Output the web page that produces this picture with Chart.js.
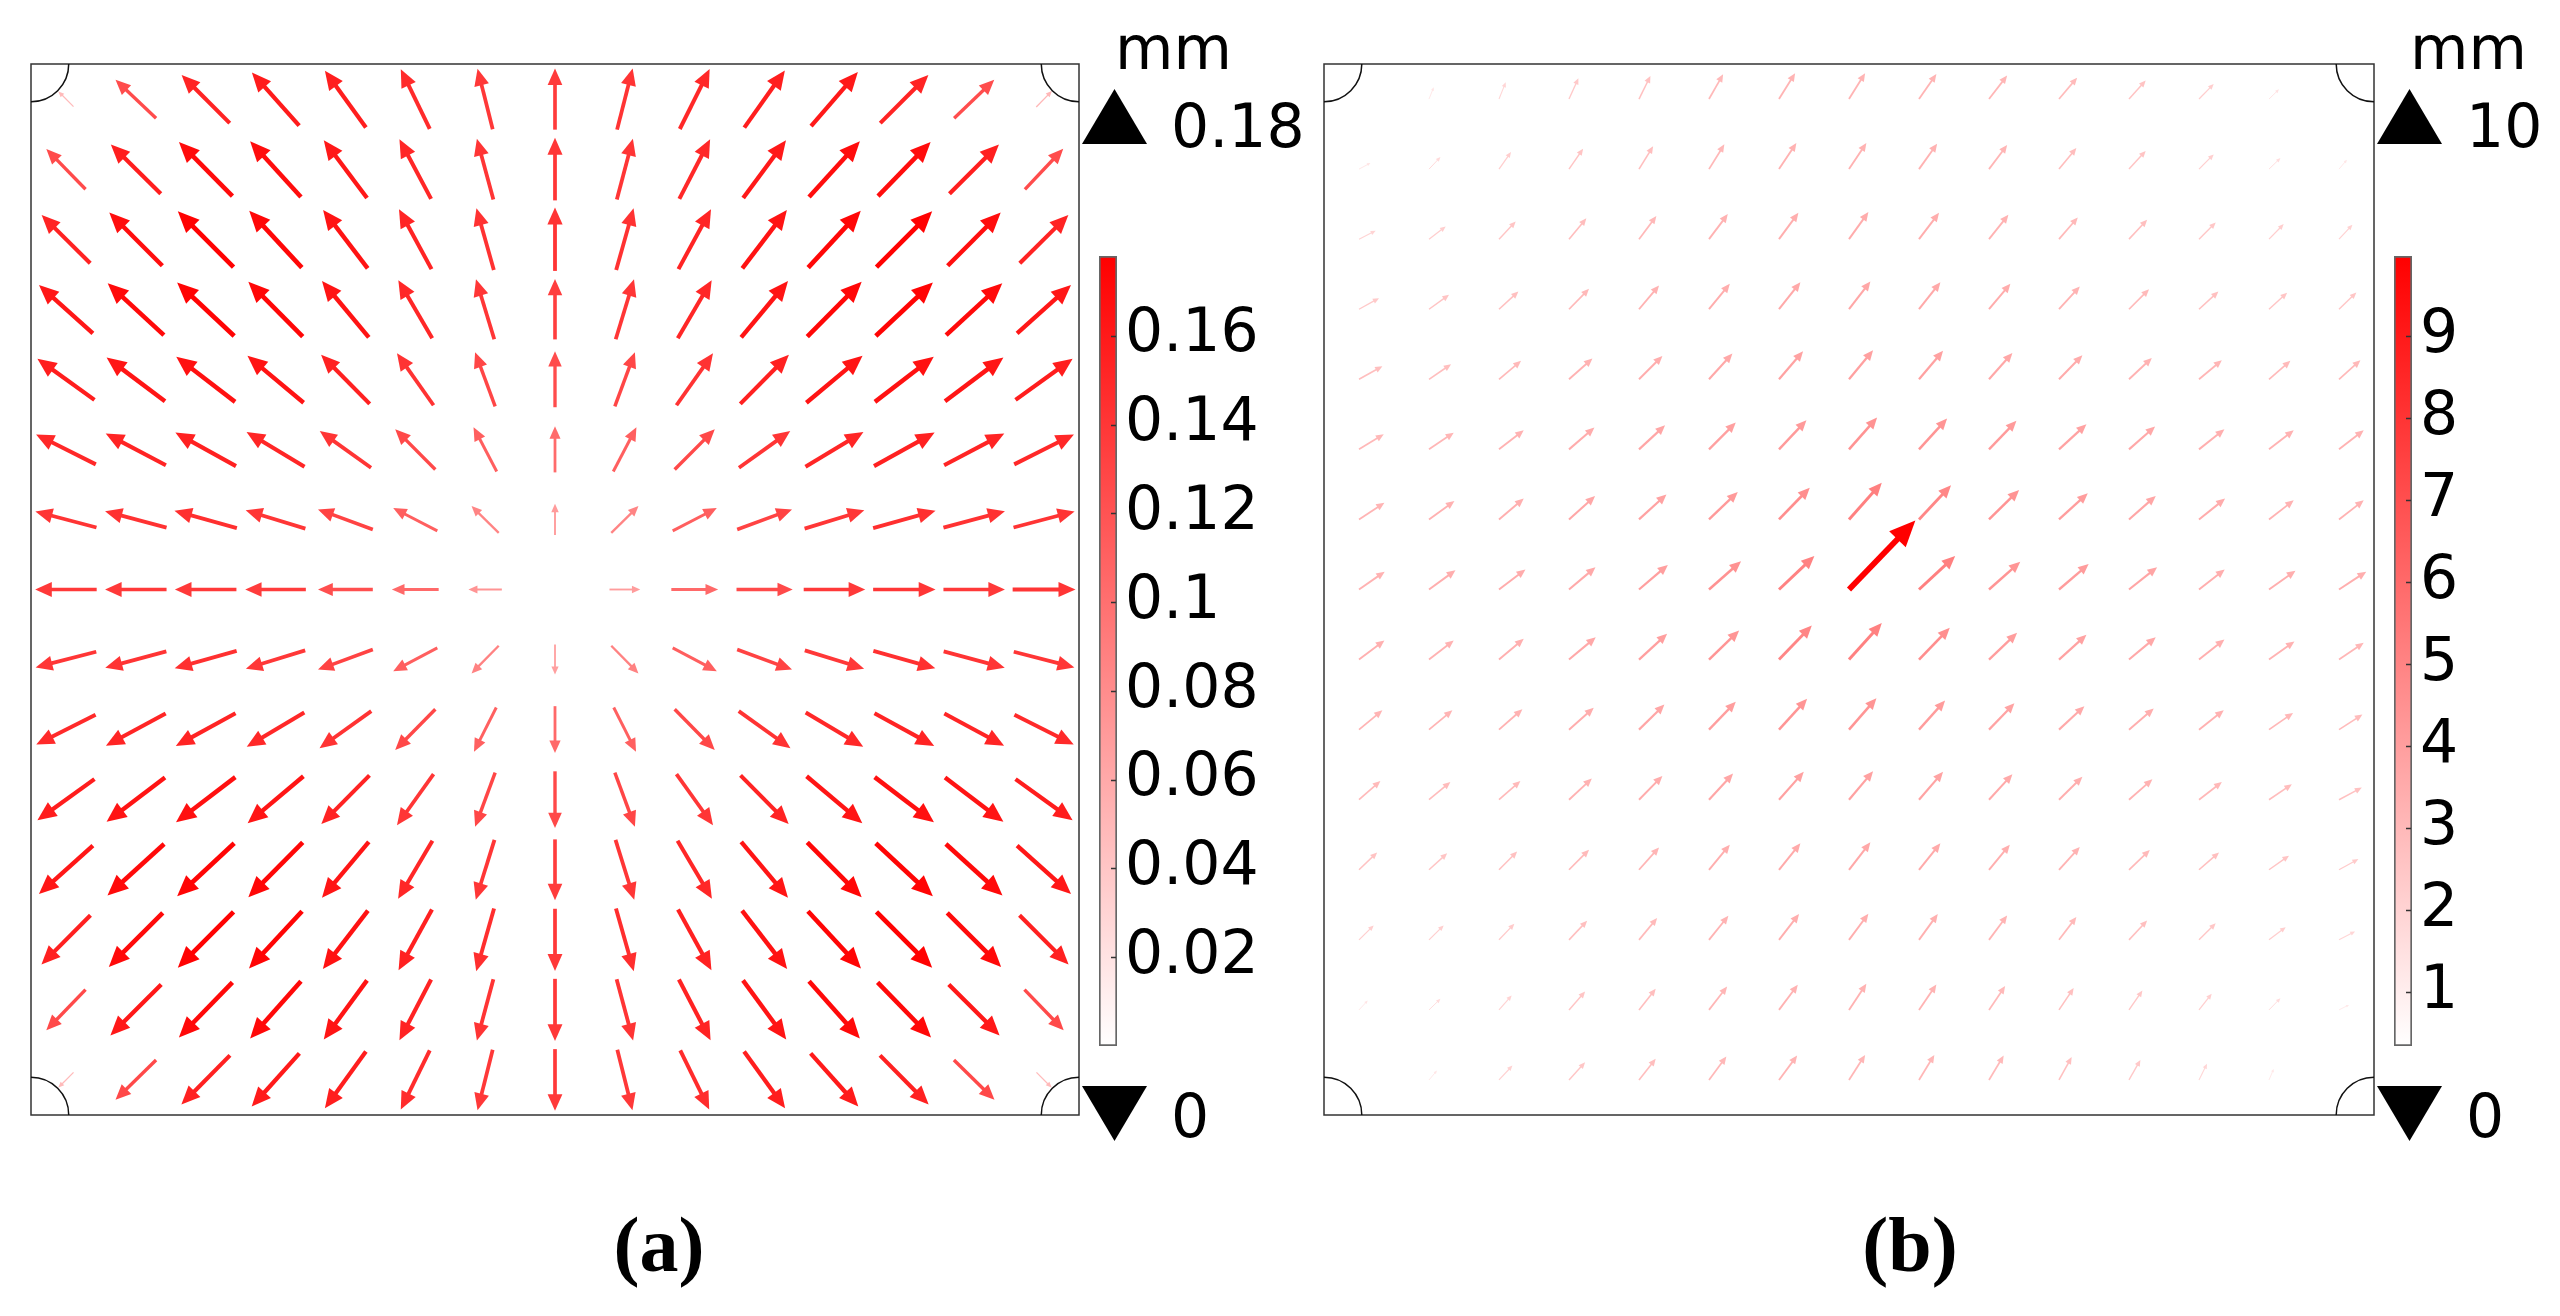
<!DOCTYPE html>
<html>
<head>
<meta charset="utf-8">
<script src="https://cdn.jsdelivr.net/npm/chart.js@4.4.1/dist/chart.umd.min.js"></script>
<style>
  html, body { margin: 0; padding: 0; background: #fff; }
  body { width: 2560px; height: 1316px; position: relative; overflow: hidden; }
  canvas { position: absolute; }
  .lbl { position: absolute; top: 1206px; transform: translateX(-50%); font-family: "Liberation Serif", serif;
         font-weight: bold; font-size: 78px; line-height: 78px; color: #000; white-space: nowrap; }
</style>
</head>
<body>
<canvas id="quiverA" width="1090" height="1130" style="left:0px;top:0px"></canvas>
<canvas id="barA" width="240" height="1200" style="left:1080px;top:0px"></canvas>
<canvas id="quiverB" width="1090" height="1130" style="left:1300px;top:0px"></canvas>
<canvas id="barB" width="190" height="1200" style="left:2370px;top:0px"></canvas>
<div class="lbl" id="labA" style="left:659px"></div>
<div class="lbl" id="labB" style="left:1910px"></div>
<script>
// grid positions (columns left->right, rows top->bottom)
var gridCols = [-7, -6, -5, -4, -3, -2, -1, 0, 1, 2, 3, 4, 5, 6, 7];
var gridRows = [7, 6, 5, 4, 3, 2, 1, 0, -1, -2, -3, -4, -5, -6, -7];

// (a) displacement components, mm (u: right, v: up)
var uA = [
  [-0.034, -0.091, -0.108, -0.106, -0.092, -0.065, -0.034, 0, 0.035, 0.067, 0.091, 0.105, 0.108, 0.090, 0.035],
  [-0.088, -0.112, -0.120, -0.114, -0.097, -0.071, -0.037, 0, 0.036, 0.069, 0.096, 0.114, 0.118, 0.111, 0.086],
  [-0.109, -0.119, -0.125, -0.118, -0.100, -0.073, -0.039, 0, 0.039, 0.073, 0.100, 0.118, 0.125, 0.119, 0.109],
  [-0.121, -0.126, -0.128, -0.122, -0.105, -0.076, -0.041, 0, 0.041, 0.076, 0.105, 0.122, 0.128, 0.126, 0.121],
  [-0.128, -0.131, -0.132, -0.126, -0.109, -0.082, -0.045, 0, 0.045, 0.082, 0.109, 0.126, 0.132, 0.131, 0.128],
  [-0.134, -0.135, -0.136, -0.130, -0.115, -0.090, -0.052, 0, 0.052, 0.090, 0.115, 0.130, 0.136, 0.135, 0.134],
  [-0.137, -0.138, -0.140, -0.134, -0.123, -0.099, -0.061, 0, 0.061, 0.099, 0.123, 0.134, 0.140, 0.138, 0.137],
  [-0.138, -0.138, -0.138, -0.136, -0.123, -0.105, -0.075, 0, 0.069, 0.105, 0.126, 0.138, 0.140, 0.138, 0.141],
  [-0.136, -0.137, -0.139, -0.133, -0.123, -0.099, -0.061, 0, 0.061, 0.099, 0.123, 0.133, 0.139, 0.137, 0.136],
  [-0.133, -0.134, -0.134, -0.129, -0.116, -0.090, -0.050, 0, 0.050, 0.090, 0.116, 0.129, 0.134, 0.134, 0.133],
  [-0.128, -0.131, -0.133, -0.125, -0.108, -0.082, -0.045, 0, 0.045, 0.082, 0.108, 0.125, 0.133, 0.131, 0.128],
  [-0.121, -0.127, -0.128, -0.122, -0.105, -0.077, -0.042, 0, 0.042, 0.077, 0.105, 0.122, 0.128, 0.127, 0.121],
  [-0.110, -0.121, -0.125, -0.119, -0.101, -0.075, -0.040, 0, 0.040, 0.075, 0.101, 0.119, 0.125, 0.121, 0.110],
  [-0.088, -0.114, -0.120, -0.114, -0.097, -0.071, -0.037, 0, 0.037, 0.071, 0.097, 0.114, 0.120, 0.114, 0.088],
  [-0.034, -0.091, -0.109, -0.107, -0.092, -0.065, -0.034, 0, 0.034, 0.065, 0.092, 0.107, 0.109, 0.091, 0.034]
];
var vA = [
  [0.034, 0.086, 0.108, 0.119, 0.127, 0.133, 0.135, 0.137, 0.137, 0.134, 0.128, 0.121, 0.108, 0.086, 0.036],
  [0.090, 0.110, 0.121, 0.125, 0.129, 0.133, 0.136, 0.140, 0.136, 0.133, 0.129, 0.125, 0.121, 0.110, 0.091],
  [0.108, 0.119, 0.125, 0.127, 0.131, 0.134, 0.138, 0.142, 0.138, 0.134, 0.131, 0.127, 0.125, 0.119, 0.108],
  [0.108, 0.116, 0.120, 0.123, 0.126, 0.130, 0.134, 0.135, 0.134, 0.130, 0.126, 0.123, 0.120, 0.116, 0.108],
  [0.092, 0.098, 0.101, 0.105, 0.110, 0.116, 0.121, 0.125, 0.121, 0.116, 0.110, 0.105, 0.101, 0.098, 0.092],
  [0.067, 0.071, 0.075, 0.078, 0.082, 0.090, 0.099, 0.103, 0.099, 0.090, 0.082, 0.078, 0.075, 0.071, 0.067],
  [0.036, 0.037, 0.039, 0.041, 0.045, 0.051, 0.060, 0.070, 0.060, 0.051, 0.045, 0.041, 0.039, 0.037, 0.036],
  [0, 0, 0, 0, 0, 0, 0, 0, 0, 0, 0, 0, 0, 0, 0],
  [-0.035, -0.037, -0.039, -0.041, -0.045, -0.052, -0.062, -0.067, -0.062, -0.052, -0.045, -0.041, -0.039, -0.037, -0.035],
  [-0.067, -0.072, -0.073, -0.077, -0.083, -0.091, -0.099, -0.105, -0.099, -0.091, -0.083, -0.077, -0.073, -0.072, -0.067],
  [-0.092, -0.099, -0.101, -0.105, -0.109, -0.114, -0.121, -0.127, -0.121, -0.114, -0.109, -0.105, -0.101, -0.099, -0.092],
  [-0.108, -0.115, -0.119, -0.123, -0.125, -0.130, -0.134, -0.136, -0.134, -0.130, -0.125, -0.123, -0.119, -0.115, -0.108],
  [-0.110, -0.121, -0.125, -0.128, -0.131, -0.136, -0.140, -0.139, -0.140, -0.136, -0.131, -0.128, -0.125, -0.121, -0.110],
  [-0.091, -0.114, -0.123, -0.128, -0.132, -0.136, -0.137, -0.139, -0.137, -0.136, -0.132, -0.128, -0.123, -0.114, -0.091],
  [-0.034, -0.089, -0.110, -0.119, -0.127, -0.132, -0.135, -0.138, -0.135, -0.132, -0.127, -0.119, -0.110, -0.089, -0.034]
];

// (b) displacement components, mm
var uB = [
  [0.10, 0.49, 0.70, 0.98, 1.19, 1.47, 1.68, 1.68, 1.81, 1.89, 1.89, 1.74, 1.53, 1.04, 0.21],
  [1.19, 1.19, 1.25, 1.47, 1.47, 1.60, 1.81, 1.81, 1.89, 1.89, 1.81, 1.74, 1.53, 1.19, 0.83],
  [1.74, 1.74, 1.74, 1.81, 1.81, 1.96, 2.02, 2.02, 2.09, 2.02, 1.96, 1.89, 1.74, 1.53, 1.40],
  [2.09, 2.09, 2.02, 2.09, 2.09, 2.17, 2.23, 2.23, 2.23, 2.23, 2.17, 2.09, 2.02, 1.89, 1.81],
  [2.44, 2.30, 2.30, 2.44, 2.44, 2.44, 2.51, 2.51, 2.51, 2.44, 2.44, 2.38, 2.38, 2.23, 2.23],
  [2.58, 2.58, 2.58, 2.65, 2.72, 2.79, 2.86, 2.93, 2.93, 2.86, 2.86, 2.72, 2.65, 2.58, 2.58],
  [2.65, 2.65, 2.58, 2.72, 2.86, 3.00, 3.21, 3.42, 3.34, 3.14, 3.00, 2.79, 2.72, 2.58, 2.58],
  [2.68, 2.76, 2.76, 2.76, 3.01, 3.34, 3.69, 6.92, 3.77, 3.26, 3.09, 2.93, 2.68, 2.76, 2.84],
  [2.65, 2.58, 2.58, 2.79, 2.93, 3.14, 3.42, 3.42, 3.21, 2.93, 2.86, 2.79, 2.65, 2.65, 2.58],
  [2.44, 2.44, 2.44, 2.58, 2.65, 2.79, 2.93, 2.86, 2.72, 2.65, 2.65, 2.58, 2.58, 2.51, 2.44],
  [2.23, 2.23, 2.23, 2.38, 2.44, 2.51, 2.58, 2.51, 2.51, 2.44, 2.44, 2.44, 2.38, 2.38, 2.38],
  [1.89, 1.89, 1.89, 2.09, 2.09, 2.17, 2.23, 2.23, 2.23, 2.17, 2.17, 2.17, 2.09, 2.09, 2.02],
  [1.53, 1.53, 1.60, 1.89, 1.89, 2.02, 2.09, 2.02, 1.96, 1.89, 1.81, 1.89, 1.74, 1.74, 1.68],
  [0.91, 1.19, 1.32, 1.68, 1.74, 1.89, 1.96, 1.81, 1.81, 1.68, 1.53, 1.40, 1.32, 1.19, 1.04],
  [0.21, 0.83, 1.40, 1.68, 1.74, 1.81, 1.89, 1.68, 1.60, 1.53, 1.32, 1.19, 0.83, 0.49, 0.10]
];
var vB = [
  [0.31, 1.22, 1.74, 2.17, 2.41, 2.58, 2.69, 2.69, 2.61, 2.44, 2.23, 1.92, 1.57, 1.01, 0.31],
  [0.63, 1.25, 1.78, 2.13, 2.38, 2.58, 2.72, 2.72, 2.65, 2.51, 2.20, 1.89, 1.53, 1.15, 0.98],
  [0.88, 1.32, 1.84, 2.17, 2.41, 2.61, 2.75, 2.82, 2.75, 2.54, 2.27, 2.02, 1.74, 1.57, 1.50],
  [1.15, 1.50, 1.84, 2.13, 2.48, 2.65, 2.82, 2.90, 2.82, 2.65, 2.38, 2.09, 1.84, 1.71, 1.74],
  [1.36, 1.57, 1.92, 2.17, 2.44, 2.69, 2.93, 3.03, 2.97, 2.75, 2.51, 2.23, 1.99, 1.92, 1.99],
  [1.57, 1.74, 1.99, 2.27, 2.51, 2.79, 3.03, 3.31, 3.21, 2.97, 2.61, 2.38, 2.09, 1.99, 1.99],
  [1.74, 1.92, 2.17, 2.44, 2.61, 2.86, 3.31, 3.83, 3.55, 3.07, 2.72, 2.44, 2.17, 1.99, 1.99],
  [1.86, 2.00, 2.09, 2.32, 2.56, 2.93, 3.49, 7.18, 3.49, 2.89, 2.65, 2.32, 2.09, 1.96, 1.86],
  [1.99, 1.99, 2.17, 2.33, 2.69, 3.03, 3.55, 3.80, 3.31, 2.79, 2.58, 2.33, 2.09, 1.89, 1.74],
  [2.02, 2.02, 2.13, 2.27, 2.61, 2.90, 3.21, 3.28, 3.03, 2.75, 2.44, 2.20, 2.02, 1.74, 1.57],
  [1.95, 1.84, 1.95, 2.20, 2.48, 2.72, 2.90, 2.97, 2.90, 2.65, 2.38, 2.13, 1.84, 1.60, 1.26],
  [1.81, 1.71, 1.89, 2.09, 2.33, 2.61, 2.75, 2.86, 2.75, 2.61, 2.38, 2.06, 1.81, 1.47, 1.11],
  [1.50, 1.50, 1.68, 1.99, 2.27, 2.51, 2.69, 2.72, 2.69, 2.54, 2.38, 2.02, 1.74, 1.32, 0.88],
  [0.98, 1.15, 1.50, 1.92, 2.20, 2.44, 2.61, 2.72, 2.65, 2.48, 2.27, 2.02, 1.68, 1.22, 0.52],
  [0.31, 0.98, 1.50, 1.84, 2.20, 2.44, 2.54, 2.61, 2.61, 2.54, 2.38, 2.09, 1.68, 1.15, 0.21]
];

// colour bars
var cbRangeA = [0, 0.178];
var cbTicksA = [0.02, 0.04, 0.06, 0.08, 0.1, 0.12, 0.14, 0.16];
var rangeLabelsA = ['0.18', '0'];
var cbRangeB = [0.34, 9.98];
var cbTicksB = [1, 2, 3, 4, 5, 6, 7, 8, 9];
var rangeLabelsB = ['10', '0'];
var unitLabel = 'mm';
var panelLabels = ['(a)', '(b)'];

var FONT = '"DejaVu Sans", sans-serif';

function redScale(m, range) {
    var t = (m - range[0]) / (range[1] - range[0]);
    t = Math.max(0, Math.min(1, t));
    var gb = Math.round(255 * (1 - t));
    return 'rgb(255,' + gb + ',' + gb + ')';
}

function drawArrow(ctx, x0, y0, x1, y1, color) {
    var dx = x1 - x0, dy = y1 - y0, L = Math.hypot(dx, dy);
    if (L < 0.8) return;
    var ux = dx / L, uy = dy / L;
    var hl = 0.27 * L, hw = 0.12 * L;
    var bx = x1 - ux * hl, by = y1 - uy * hl;
    ctx.strokeStyle = color;
    ctx.fillStyle = color;
    ctx.lineWidth = Math.max(0.9, 0.06 * L);
    ctx.lineCap = 'butt';
    ctx.beginPath();
    ctx.moveTo(x0, y0);
    ctx.lineTo(bx + ux, by + uy);
    ctx.stroke();
    ctx.beginPath();
    ctx.moveTo(x1, y1);
    ctx.lineTo(bx - uy * hw, by + ux * hw);
    ctx.lineTo(bx + uy * hw, by - ux * hw);
    ctx.closePath();
    ctx.fill();
}

var quiverPlugin = {
    id: 'quiver',
    afterDatasetsDraw: function (chart, args, opts) {
        var ctx = chart.ctx, xs = chart.scales.x, ys = chart.scales.y;
        var off = opts.anchor === 'middle' ? 0.5 : 0;
        ctx.save();
        chart.data.datasets[0].data.forEach(function (p) {
            var m = Math.hypot(p.u, p.v);
            if (m === 0) return;
            var k = opts.scale;
            var x0 = xs.getPixelForValue(p.x - off * p.u * k);
            var y0 = ys.getPixelForValue(p.y - off * p.v * k);
            var x1 = xs.getPixelForValue(p.x + (1 - off) * p.u * k);
            var y1 = ys.getPixelForValue(p.y + (1 - off) * p.v * k);
            drawArrow(ctx, x0, y0, x1, y1, redScale(m, opts.range));
        });
        ctx.restore();
    }
};

// plate outline with the four quarter-circle supports
var framePlugin = {
    id: 'frame',
    afterDraw: function (chart) {
        var ctx = chart.ctx, a = chart.chartArea, xs = chart.scales.x;
        var r = xs.getPixelForValue(xs.min + 0.54) - xs.getPixelForValue(xs.min);
        ctx.save();
        ctx.strokeStyle = '#333';
        ctx.lineWidth = 1.5;
        ctx.strokeRect(a.left, a.top, a.right - a.left, a.bottom - a.top);
        ctx.strokeStyle = '#111';
        [[a.left, a.top, 0, Math.PI / 2], [a.right, a.top, Math.PI / 2, Math.PI],
         [a.right, a.bottom, Math.PI, 1.5 * Math.PI], [a.left, a.bottom, 1.5 * Math.PI, 2 * Math.PI]].forEach(function (c) {
            ctx.beginPath();
            ctx.arc(c[0], c[1], r, c[2], c[3]);
            ctx.stroke();
        });
        ctx.restore();
    }
};

function makeQuiver(id, u, v, padding, quiverOpts) {
    var pts = [];
    gridRows.forEach(function (gy, r) {
        gridCols.forEach(function (gx, c) {
            pts.push({ x: gx, y: gy, u: u[r][c], v: v[r][c] });
        });
    });
    return new Chart(document.getElementById(id), {
        type: 'scatter',
        data: { datasets: [{ data: pts, pointRadius: 0, pointHoverRadius: 0 }] },
        options: {
            responsive: false,
            animation: false,
            devicePixelRatio: 1,
            events: [],
            layout: { padding: padding },
            plugins: { legend: { display: false }, tooltip: { enabled: false }, quiver: quiverOpts },
            scales: {
                x: { display: false, min: -7.5, max: 7.5 },
                y: { display: false, min: -7.5, max: 7.5 }
            }
        },
        plugins: [quiverPlugin, framePlugin]
    });
}

// tick marks, max/min triangles and their labels
var cbarPlugin = {
    id: 'cbar',
    afterDraw: function (chart, args, opts) {
        var ctx = chart.ctx, a = chart.chartArea, ys = chart.scales.y;
        ctx.save();
        ctx.strokeStyle = '#333';
        ctx.lineWidth = 1.5;
        ys.ticks.forEach(function (t) {
            var py = Math.round(ys.getPixelForValue(t.value)) + 0.5;
            ctx.beginPath();
            ctx.moveTo(a.right - 6, py);
            ctx.lineTo(a.right - 1, py);
            ctx.stroke();
        });
        var cx = a.left + 15.5, hw = 32.5;
        ctx.fillStyle = '#000';
        ctx.beginPath();
        ctx.moveTo(cx, 89); ctx.lineTo(cx + hw, 144); ctx.lineTo(cx - hw, 144); ctx.closePath();
        ctx.fill();
        ctx.beginPath();
        ctx.moveTo(cx - hw, 1086); ctx.lineTo(cx + hw, 1086); ctx.lineTo(cx, 1141); ctx.closePath();
        ctx.fill();
        ctx.font = '60px ' + FONT;
        ctx.textAlign = 'left';
        ctx.textBaseline = 'alphabetic';
        ctx.fillText(unitLabel, a.left + 16, 69);
        ctx.fillText(opts.labels[0], a.left + 72, 147);
        ctx.fillText(opts.labels[1], a.left + 72, 1137);
        ctx.restore();
    }
};

function makeColorbar(id, range, ticks, labels, padLeft, axisWidth) {
    return new Chart(document.getElementById(id), {
        type: 'bar',
        data: {
            labels: [''],
            datasets: [{
                data: [range],
                backgroundColor: function (c) {
                    var area = c.chart.chartArea;
                    if (!area) return 'rgb(255,0,0)';
                    var g = c.chart.ctx.createLinearGradient(0, area.bottom, 0, area.top);
                    g.addColorStop(0, 'rgb(255,255,255)');
                    g.addColorStop(1, 'rgb(255,0,0)');
                    return g;
                },
                borderColor: '#666',
                borderWidth: 2,
                borderSkipped: false,
                barPercentage: 1,
                categoryPercentage: 1
            }]
        },
        options: {
            responsive: false,
            animation: false,
            devicePixelRatio: 1,
            events: [],
            layout: { padding: { left: padLeft, top: 256, bottom: 154, right: 0 } },
            plugins: { legend: { display: false }, tooltip: { enabled: false }, cbar: { labels: labels } },
            scales: {
                x: { display: false },
                y: {
                    position: 'right',
                    min: range[0],
                    max: range[1],
                    grid: { display: false, drawTicks: false },
                    border: { display: false },
                    afterBuildTicks: function (s) {
                        s.ticks = ticks.map(function (t) { return { value: t }; });
                    },
                    afterFit: function (s) { s.width = axisWidth; },
                    ticks: {
                        autoSkip: false,
                        padding: 8,
                        color: '#000',
                        font: { family: FONT, size: 60 },
                        callback: function (val) { return String(val); }
                    }
                }
            }
        },
        plugins: [cbarPlugin]
    });
}

makeQuiver('quiverA', uA, vA, { left: 31, top: 64, right: 11, bottom: 15 },
    { scale: 6.38, anchor: 'middle', range: cbRangeA });
makeQuiver('quiverB', uB, vB, { left: 24, top: 64, right: 16, bottom: 15 },
    { scale: 0.137, anchor: 'tail', range: cbRangeB });
makeColorbar('barA', cbRangeA, cbTicksA, rangeLabelsA, 19, 203);
makeColorbar('barB', cbRangeB, cbTicksB, rangeLabelsB, 24, 148);

document.getElementById('labA').textContent = panelLabels[0];
document.getElementById('labB').textContent = panelLabels[1];
</script>
</body>
</html>
